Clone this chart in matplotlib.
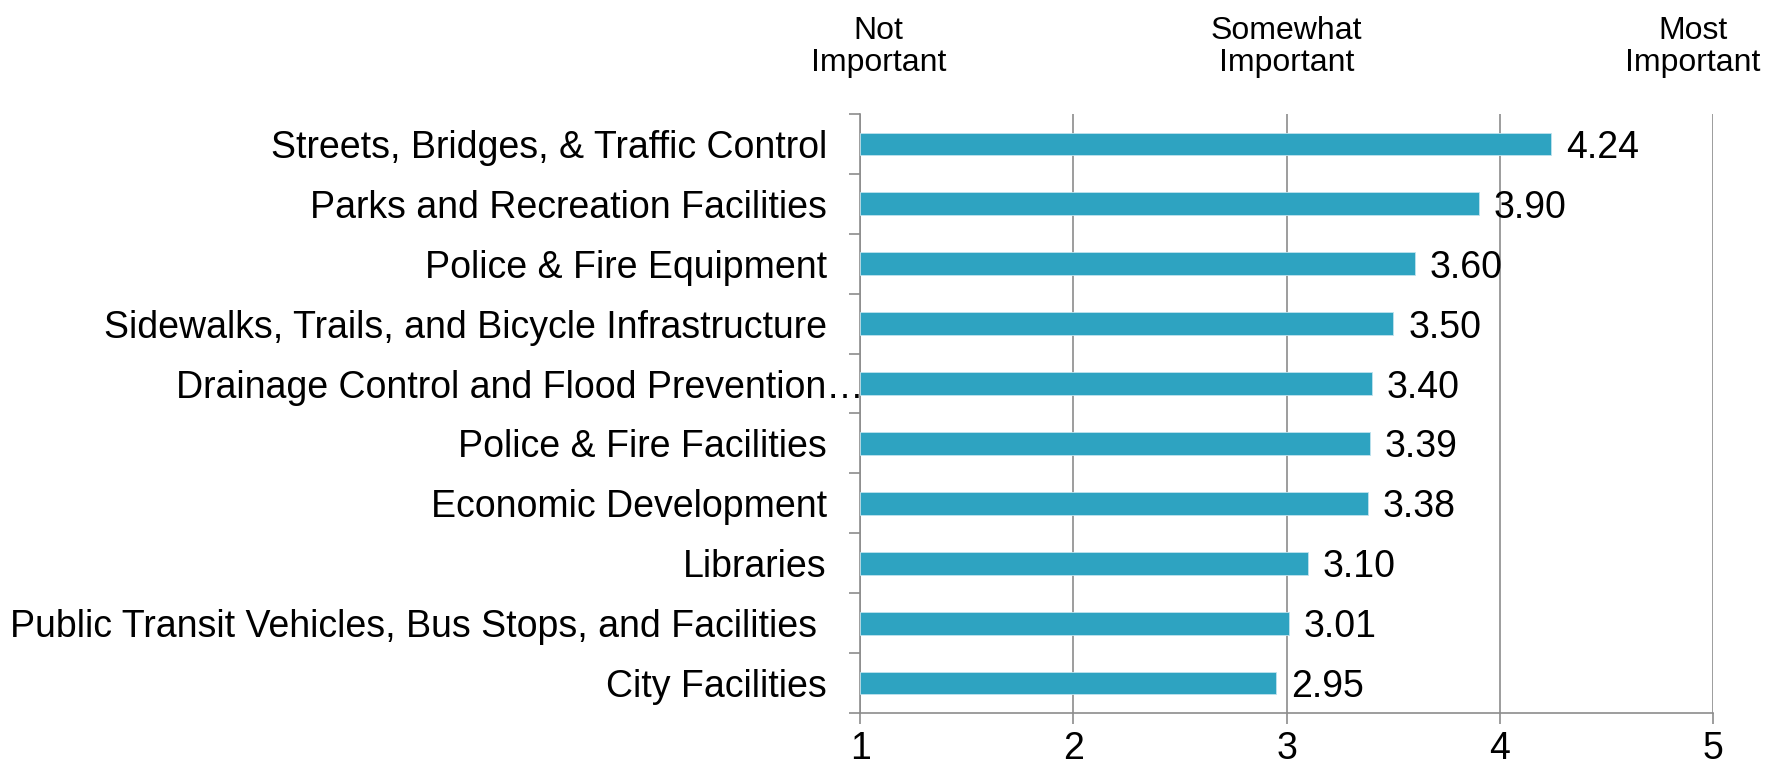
import matplotlib
matplotlib.use('Agg')
import matplotlib.pyplot as plt
import matplotlib.transforms as mtransforms

plt.rcParams['font.family'] = ['Liberation Sans', 'DejaVu Sans']

# ---- Data ----
categories = [
    'Streets, Bridges, & Traffic Control',
    'Parks and Recreation Facilities',
    'Police & Fire Equipment',
    'Sidewalks, Trails, and Bicycle Infrastructure',
    'Drainage Control and Flood Prevention\u2026',
    'Police & Fire Facilities',
    'Economic Development',
    'Libraries',
    'Public Transit Vehicles, Bus Stops, and Facilities ',
    'City Facilities',
]
scores = [4.24, 3.90, 3.60, 3.50, 3.40, 3.39, 3.38, 3.10, 3.01, 2.95]
value_labels = ['4.24', '3.90', '3.60', '3.50', '3.40', '3.39', '3.38', '3.10', '3.01', '2.95']
header_text = ['Not\nImportant', 'Somewhat\nImportant', 'Most\nImportant']
header_pos = [1.085, 3.0, 4.905]

# ---- Style ----
bar_color = '#2EA3C1'
grid_color = '#8C8C8C'
fs = 27

fig = plt.figure(figsize=(17.81, 7.70), dpi=100)
ax = fig.add_axes([0.483, 0.074, 0.479, 0.778])

y = list(range(len(categories)))
ax.barh(y, [s - 1 for s in scores], left=1, height=0.38, color=bar_color,
        edgecolor='#BFE3EE', linewidth=0.6, zorder=3)

for yi, s, lab in zip(y, scores, value_labels):
    ax.text(s + 0.07, yi, lab, fontsize=fs, va='center_baseline', ha='left', zorder=4)

ax.set_xlim(1, 5)
ax.set_ylim(len(categories) - 0.5, -0.5)
ax.set_xticks([1, 2, 3, 4, 5])
ax.set_xticklabels(['1', '2', '3', '4', '5'], fontsize=fs)

# category labels at bar centres, tick marks at boundaries
ax.set_yticks(y)
ax.set_yticklabels(categories, fontsize=fs)
ax.tick_params(axis='y', which='major', length=0, pad=24)
ax.set_yticks([i - 0.5 for i in range(len(categories) + 1)], minor=True)
ax.tick_params(axis='y', which='minor', length=8, color=grid_color, width=1.2)
ax.tick_params(axis='x', length=8, color=grid_color, width=1.2, pad=5)

# shift the truncated label to the right like the original
lbl = ax.get_yticklabels()[4]
lbl.set_transform(lbl.get_transform() + mtransforms.ScaledTranslation(0.37, 0, fig.dpi_scale_trans))

ax.grid(axis='x', color=grid_color, linewidth=1.2, zorder=0)
for side in ['top', 'right']:
    ax.spines[side].set_visible(False)
for side in ['left', 'bottom']:
    ax.spines[side].set_color(grid_color)
    ax.spines[side].set_linewidth(1.2)

for txt, xp in zip(header_text, header_pos):
    ax.text(xp, 1.06, txt, transform=ax.get_xaxis_transform(), fontsize=23,
            ha='center', va='bottom', linespacing=1.1)

fig.savefig('out.png', dpi=100)
